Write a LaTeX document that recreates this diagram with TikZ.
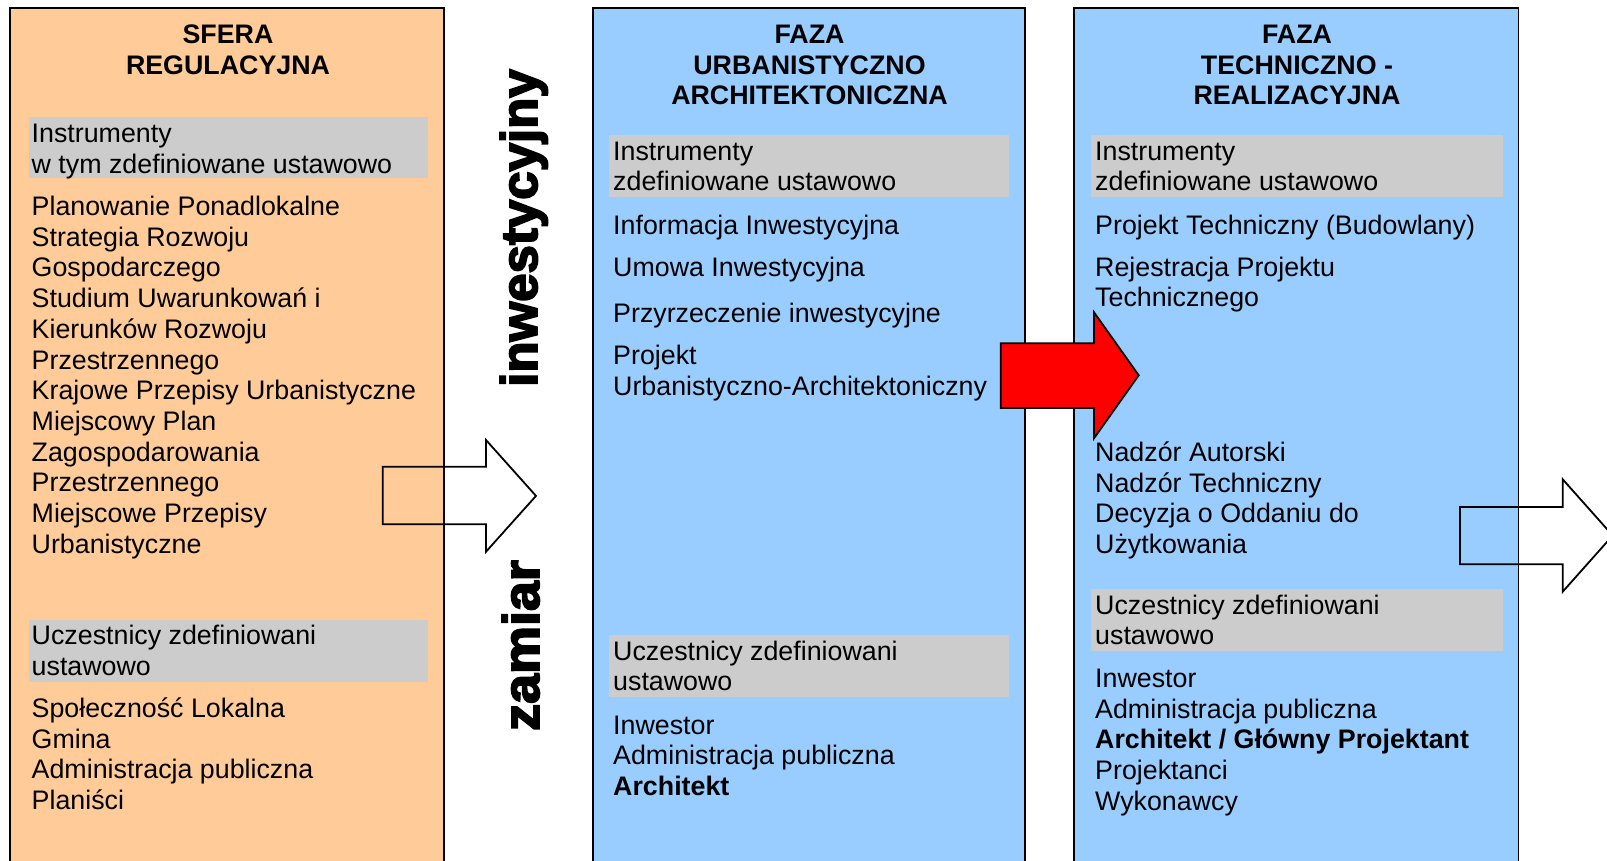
\documentclass[tikz,border=0pt]{standalone}
\usepackage{fontspec}
\setmainfont{Liberation Sans}
\newfontfamily\heavyfont[FakeBold=3.5,BoldFeatures={FakeBold=3.5}]{Liberation Sans}
\definecolor{peach}{HTML}{FFCC99}
\definecolor{skyblue}{HTML}{99CCFF}
\definecolor{lightgray}{HTML}{CCCCCC}
\definecolor{arrowred}{HTML}{FF0000}
\newcommand\bodyfont{\fontsize{26.8}{30.7}\selectfont}
\newcommand\blk[1]{\begin{tabular}[t]{@{}l@{}}#1\end{tabular}}
\newcommand\hblk[1]{\begin{tabular}[t]{@{}c@{}}#1\end{tabular}}
\tikzset{
  phase/.style={draw=black, line width=1.8pt},
  graybox/.style={fill=lightgray, draw=none},
  txt/.style={anchor=base west, inner sep=0pt, font=\bodyfont},
  head/.style={anchor=base, inner sep=0pt, font=\bodyfont\bfseries},
  vert/.style={anchor=base west, inner sep=0pt, rotate=90, font=\heavyfont\bfseries\fontsize{51}{51}\selectfont},
  openarrow/.style={draw=black, line width=1.8pt, line join=miter},
  redarrow/.style={fill=arrowred, draw=black, line width=1.8pt, line join=miter}
}
\begin{document}
\begin{tikzpicture}[x=1pt, y=-1pt]
\useasboundingbox (0,0) rectangle (1607,860);
\clip (0,0) rectangle (1607,860);
\fill[white] (0,0) rectangle (1607,860);

% phase columns
\draw[phase, fill=peach] (10.2,8.2) rectangle (443.8,880);
\draw[phase, fill=skyblue] (592.6,8.2) rectangle (1025,880);
\draw[phase, fill=skyblue] (1074,8.2) rectangle (1518.5,880);

% gray header bands
\fill[graybox] (28.5,117) rectangle (428,178);
\fill[graybox] (28.5,620) rectangle (428,682);
\fill[graybox] (609.3,135) rectangle (1009,196.7);
\fill[graybox] (609.3,635) rectangle (1009,697);
\fill[graybox] (1091,135) rectangle (1503,196.7);
\fill[graybox] (1091,589) rectangle (1503,650.7);

% column 1
\node[head] (h1) at (228,43.8) {\hblk{SFERA\\REGULACYJNA}};
\node[txt] (i1) at (31.5,142.5) {\blk{Instrumenty\\w tym zdefiniowane ustawowo}};
\node[txt] (l1) at (31.5,215.5) {\blk{Planowanie Ponadlokalne\\Strategia Rozwoju\\Gospodarczego\\Studium Uwarunkowań i\\Kierunków Rozwoju\\Przestrzennego\\Krajowe Przepisy Urbanistyczne\\Miejscowy Plan\\Zagospodarowania\\Przestrzennego\\Miejscowe Przepisy\\Urbanistyczne}};
\node[txt] (u1) at (31.5,644.8) {\blk{Uczestnicy zdefiniowani\\ustawowo}};
\node[txt] (p1) at (31.5,717.5) {\blk{Społeczność Lokalna\\Gmina\\Administracja publiczna\\Planiści}};

% column 2
\node[head] (h2) at (809.5,43.5) {\hblk{FAZA\\URBANISTYCZNO\\ARCHITEKTONICZNA}};
\node[txt] (i2) at (613,160.1) {\blk{Instrumenty\\zdefiniowane ustawowo}};
\node[txt] (a2) at (613,234.1) {Informacja Inwestycyjna};
\node[txt] (b2) at (613,276.1) {Umowa Inwestycyjna};
\node[txt] (c2) at (613,322.8) {Przyrzeczenie inwestycyjne};
\node[txt] (d2) at (613,364.8) {\blk{Projekt\\Urbanistyczno-Architektoniczny}};
\node[txt] (u2) at (613,660.1) {\blk{Uczestnicy zdefiniowani\\ustawowo}};
\node[txt] (p2) at (613,734.1) {\blk{Inwestor\\Administracja publiczna\\\textbf{Architekt}}};

% column 3
\node[head] (h3) at (1297,43.5) {\hblk{FAZA\\TECHNICZNO -\\REALIZACYJNA}};
\node[txt] (i3) at (1095,160.1) {\blk{Instrumenty\\zdefiniowane ustawowo}};
\node[txt] (a3) at (1095,234.1) {Projekt Techniczny (Budowlany)};
\node[txt] (b3) at (1095,276.1) {\blk{Rejestracja Projektu\\Technicznego}};
\node[txt] (c3) at (1095,461.5) {\blk{Nadzór Autorski\\Nadzór Techniczny\\Decyzja o Oddaniu do\\Użytkowania}};
\node[txt] (u3) at (1095,614.1) {\blk{Uczestnicy zdefiniowani\\ustawowo}};
\node[txt] (p3) at (1095,687.5) {\blk{Inwestor\\Administracja publiczna\\\textbf{Architekt / Główny Projektant}\\Projektanci\\Wykonawcy}};

% vertical labels
\node[vert] (v1) at (537,387) {inwestycyjny};
\node[vert] (v2) at (539,731) {\scalebox{1.056}[1]{zamiar}};

% open block arrows
\draw[openarrow] (382.7,466.7) -- (486,466.7) -- (486,440) -- (536,495.9)
  -- (486,551.7) -- (486,524.3) -- (382.7,524.3) -- cycle;
\draw[openarrow] (1460,507) -- (1562.7,507) -- (1562.7,479.3) -- (1612.7,535.5)
  -- (1562.7,591.7) -- (1562.7,564.3) -- (1460,564.3) -- cycle;

% red block arrow
\draw[redarrow] (1000.7,343.3) -- (1094,343.3) -- (1094,312.3) -- (1138.7,375.3)
  -- (1094,438.3) -- (1094,408) -- (1000.7,408) -- cycle;
\end{tikzpicture}
\end{document}
